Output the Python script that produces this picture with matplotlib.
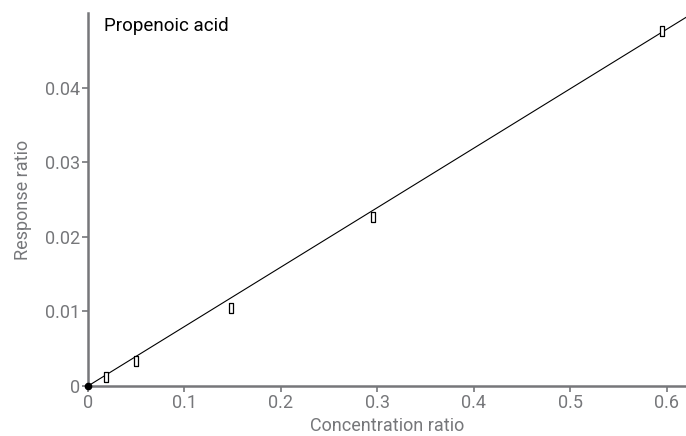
import matplotlib
matplotlib.use("Agg")
import matplotlib.pyplot as plt
import numpy as np

plt.rcParams['font.family'] = ['Roboto', 'DejaVu Sans']

title = "Propenoic acid"
conc = [0.0185, 0.0497, 0.148, 0.2957, 0.595]
resp = [0.00125, 0.0034, 0.0104, 0.0227, 0.0476]
origin_x = [0.0]
origin_y = [0.0]
fit_x = [0.0, 0.62]
slope = 0.0797
xticks = [0, 0.1, 0.2, 0.3, 0.4, 0.5, 0.6]
xticklabels = ["0", "0.1", "0.2", "0.3", "0.4", "0.5", "0.6"]
yticks = [0, 0.01, 0.02, 0.03, 0.04]
yticklabels = ["0", "0.01", "0.02", "0.03", "0.04"]

gray = "#76777a"

fig = plt.figure(figsize=(6.86, 4.36), dpi=100)
ax = fig.add_axes([88/686, 50/436, 1 - 88/686, (386-13)/436])

fx = np.array(fit_x)
ax.plot(fx, slope * fx, color="black", lw=0.8, zorder=2)
rect = [(-0.5, -1), (0.5, -1), (0.5, 1), (-0.5, 1), (-0.5, -1)]
ax.plot(conc, resp, linestyle="none", marker=rect, markersize=6.5,
        markerfacecolor="white", markeredgecolor="black", markeredgewidth=0.9, zorder=3)
ax.plot(origin_x, origin_y, linestyle="none", marker="o", markersize=4.5,
        color="black", zorder=4, clip_on=False)

ax.set_xlim(0, 0.62)
ax.set_ylim(0, 0.05)
ax.set_xticks(xticks)
ax.set_xticklabels(xticklabels)
ax.set_yticks(yticks)
ax.set_yticklabels(yticklabels)

for s in ["top", "right"]:
    ax.spines[s].set_visible(False)
for s in ["left", "bottom"]:
    ax.spines[s].set_color(gray)
    ax.spines[s].set_linewidth(1.8)
ax.tick_params(colors=gray, labelcolor=gray, labelsize=13, length=4, width=1.2, pad=2)

ax.set_xlabel("Concentration ratio", fontsize=13, color=gray, labelpad=3)
ax.set_ylabel("Response ratio", fontsize=13, color=gray, labelpad=9)
fig.text(104/686, 1 - 26/436, title, fontsize=13.5, color="black", va="center", ha="left")

fig.savefig("out.png", dpi=100)
